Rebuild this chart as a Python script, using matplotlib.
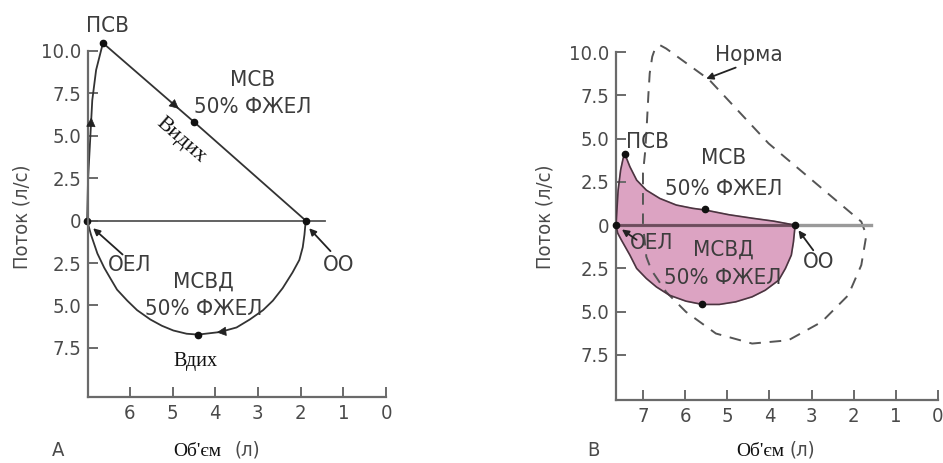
import matplotlib
matplotlib.use("Agg")
import matplotlib.pyplot as plt
import numpy as np
from matplotlib import font_manager
from matplotlib.font_manager import FontProperties

# a narrow sans looks closest; fall back to Roboto
narrow = [f for f in font_manager.fontManager.ttflist
          if ("Condensed" in f.fname or "Narrow" in f.fname)
          and "Bold" not in f.fname and "Oblique" not in f.fname
          and "Italic" not in f.fname]
if narrow:
    SANS_FP = FontProperties(fname=narrow[0].fname)
else:
    SANS_FP = FontProperties(family="Roboto")
SERIF = "Liberation Serif"
GREY = "#3c3c3c"
AXC = "#6a6a6a"

# ---- panel A ----
a_exp_v = [7.0, 6.98, 6.93, 6.88, 6.79, 6.63, 4.49, 1.88]
a_exp_f = [0, 2.37, 4.73, 7.1, 8.88, 10.47, 5.8, 0]
a_insp_v = [1.88, 1.91, 1.95, 2.03, 2.19, 2.42, 2.65, 2.88, 3.19, 3.5, 3.89, 4.4,
            4.67, 4.98, 5.25, 5.52, 5.83, 6.06, 6.3, 6.45, 6.6, 6.76, 6.91, 7.0]
a_insp_f = [0, -0.83, -1.57, -2.32, -3.06, -3.98, -4.72, -5.28, -5.83, -6.3, -6.57,
            -6.72, -6.67, -6.48, -6.2, -5.83, -5.28, -4.72, -4.07, -3.43, -2.78,
            -1.94, -0.83, 0]
a_dots_v = [7.0, 6.63, 4.49, 1.88, 4.4]
a_dots_f = [0, 10.47, 5.8, 0, -6.72]

# ---- panel B ----
b_exp_v = [7.64, 7.59, 7.53, 7.47, 7.43, 7.31, 7.15, 6.92, 6.6, 6.21, 5.82,
           5.52, 4.96, 4.41, 3.9, 3.39]
b_exp_f = [0, 2.0, 3.18, 3.86, 4.1, 3.37, 2.6, 2.02, 1.54, 1.16, 0.97,
           0.87, 0.6, 0.4, 0.23, 0]
b_insp_v = [3.39, 3.43, 3.48, 3.62, 3.78, 4.1, 4.41, 4.8, 5.19, 5.59, 5.98,
            6.37, 6.68, 6.92, 7.15, 7.31, 7.51, 7.6, 7.64]
b_insp_f = [0, -0.97, -1.73, -2.5, -3.18, -3.76, -4.14, -4.43, -4.58, -4.58,
            -4.39, -4.05, -3.57, -3.08, -2.5, -1.73, -0.87, -0.46, 0]
b_dots_v = [7.64, 7.43, 5.52, 3.39, 5.59]
b_dots_f = [0, 4.1, 0.92, 0, -4.58]

norm_v = [7.0, 7.0, 7.0, 6.95, 6.92, 6.87, 6.84, 6.78, 6.72, 6.6, 6.45, 5.43,
          4.02, 1.82, 1.7, 1.82, 2.13, 2.76, 3.55, 4.41, 5.27, 5.98, 6.45,
          6.8, 6.92, 6.96, 7.0]
norm_f = [0, 0.7, 3.0, 4.2, 5.3, 7.6, 8.77, 9.73, 10.15, 10.4, 10.2, 8.4,
          4.72, 0.2, -0.58, -2.31, -4.05, -5.59, -6.65, -6.84, -6.26, -5.01,
          -3.86, -2.6, -1.83, -0.87, 0]

ytick_pos = [10, 7.5, 5, 2.5, 0, -2.5, -5, -7.5]
ytick_lab = ["10.0", "7.5", "5.0", "2.5", "0", "2.5", "5.0", "7.5"]


def style_axes(ax, xticks):
    for s in ["top", "right"]:
        ax.spines[s].set_visible(False)
    for s in ["left", "bottom"]:
        ax.spines[s].set_color(AXC)
        ax.spines[s].set_linewidth(1.6)
    ax.set_yticks(ytick_pos)
    ax.set_yticklabels(ytick_lab)
    ax.set_xticks(xticks)
    ax.set_xticklabels([str(t) for t in xticks])
    ax.tick_params(direction="in", length=7, width=1.4, color=AXC,
                   labelcolor="#4a4a4a", pad=5)
    for lab in ax.get_xticklabels() + ax.get_yticklabels():
        lab.set_fontproperties(SANS_FP)
        lab.set_fontsize(14.5)
    ax.patch.set_alpha(0)


def arrow_on(ax, v, f, i, t=0.5, color="#222"):
    # small arrowhead between point i and i+1, pointing to i+1
    p = np.array([v[i], f[i]], float)
    q = np.array([v[i + 1], f[i + 1]], float)
    m = p + t * (q - p)
    d = (q - p) / np.linalg.norm(q - p) * 0.05
    ax.annotate("", xy=m + d, xytext=m - d,
                arrowprops=dict(arrowstyle="-|>", color=color, lw=0.5,
                                mutation_scale=15, shrinkA=0, shrinkB=0))


def label(ax, x, y, s, size=16, **kw):
    opts = dict(ha="center", va="center", color=GREY)
    opts.update(kw)
    if "family" not in kw:
        fp = SANS_FP.copy()
        fp.set_size(size)
        opts["fontproperties"] = fp
    else:
        opts["fontsize"] = size
    ax.text(x, y, s, clip_on=False, **opts)


def pointer(ax, tail, tip):
    ax.annotate("", xy=tip, xytext=tail,
                arrowprops=dict(arrowstyle="-|>", color="#222", lw=1.3,
                                mutation_scale=10, shrinkA=0, shrinkB=0))


fig = plt.figure(figsize=(9.43, 4.63), dpi=100)

# ================= panel A =================
ax1 = fig.add_axes([88 / 943, 1 - 397 / 463, 298 / 943, 346 / 463])
ax1.set_xlim(6.98, 0)
ax1.set_ylim(-10.4, 10)
style_axes(ax1, [6, 5, 4, 3, 2, 1, 0])

ax1.plot([7.0, 1.42], [0, 0], color="#555", lw=1.3)
ax1.plot(a_exp_v, a_exp_f, color="#333", lw=1.3, clip_on=False)
ax1.plot(a_insp_v, a_insp_f, color="#333", lw=1.3)
ax1.plot(a_dots_v, a_dots_f, "o", color="#111", ms=4.5, clip_on=False)
arrow_on(ax1, a_exp_v, a_exp_f, 2, 0.55)
arrow_on(ax1, a_exp_v, a_exp_f, 5, 0.82)
arrow_on(ax1, a_insp_v, a_insp_f, 10, 0.05)

label(ax1, 6.53, 11.5, "ПСВ")
label(ax1, 3.12, 8.3, "МСВ")
label(ax1, 3.12, 6.7, "50% ФЖЕЛ")
label(ax1, 4.79, 4.73, "Видих", size=15.5, family=SERIF, color="#111",
      rotation=-41)
label(ax1, 6.0, -2.6, "ОЕЛ")
pointer(ax1, (6.17, -2.0), (6.86, -0.45))
label(ax1, 1.12, -2.6, "ОО")
pointer(ax1, (1.3, -1.8), (1.8, -0.45))
label(ax1, 4.28, -3.6, "МСВД")
label(ax1, 4.28, -5.2, "50% ФЖЕЛ")
label(ax1, 4.47, -8.3, "Вдих", size=14.5, family=SERIF, color="#111")

# ================= panel B =================
ax2 = fig.add_axes([616 / 943, 1 - 400 / 463, 322 / 943, 348 / 463])
ax2.set_xlim(7.64, 0)
ax2.set_ylim(-10.1, 10)
style_axes(ax2, [7, 6, 5, 4, 3, 2, 1, 0])

loop_v = b_exp_v + b_insp_v[1:]
loop_f = b_exp_f + b_insp_f[1:]
ax2.fill(loop_v, loop_f, color="#dca3c2", zorder=1)
ax2.plot(norm_v, norm_f, color="#555", lw=1.4, ls=(0, (6, 4.5)), zorder=2,
         clip_on=False)
ax2.plot([7.64, 1.59], [0, 0], color="#9a9a9a", lw=2.4, zorder=2)
ax2.plot([7.64, 3.39], [0, 0], color="#6e4a5c", lw=2.0, zorder=2)
ax2.plot(loop_v, loop_f, color="#4a3540", lw=1.2, zorder=3)
ax2.plot(b_dots_v, b_dots_f, "o", color="#111", ms=4.5, zorder=4,
         clip_on=False)

label(ax2, 4.49, 9.85, "Норма")
pointer(ax2, (4.8, 9.1), (5.5, 8.45))
label(ax2, 6.9, 4.8, "ПСВ")
label(ax2, 5.08, 3.85, "МСВ")
label(ax2, 5.08, 2.1, "50% ФЖЕЛ")
label(ax2, 6.79, -1.05, "ОЕЛ")
pointer(ax2, (7.15, -0.85), (7.5, -0.25))
label(ax2, 5.1, -1.4, "МСВД")
label(ax2, 5.1, -3.05, "50% ФЖЕЛ")
label(ax2, 2.84, -2.15, "ОО")
pointer(ax2, (2.96, -1.45), (3.31, -0.3))


def ftext(xpix, ypix, s, serif=False, **kw):
    if serif:
        fig.text(xpix / 943, 1 - ypix / 463, s, ha="center", va="center",
                 fontsize=14, color="#111", family=SERIF, **kw)
    else:
        fp = SANS_FP.copy()
        fp.set_size(14.5)
        fig.text(xpix / 943, 1 - ypix / 463, s, ha="center", va="center",
                 color="#4a4a4a", fontproperties=fp, **kw)


# ---- axis titles and panel letters ----
ftext(22, 217, "Поток (л/с)", rotation=90)
ftext(545, 217, "Поток (л/с)", rotation=90)
ftext(58, 450, "А")
ftext(593, 450, "В")
ftext(197, 452, "Об'єм", serif=True)
ftext(247, 450, "(л)")
ftext(760, 452, "Об'єм", serif=True)
ftext(802, 450, "(л)")

fig.savefig("out.png", dpi=100, facecolor="white")
